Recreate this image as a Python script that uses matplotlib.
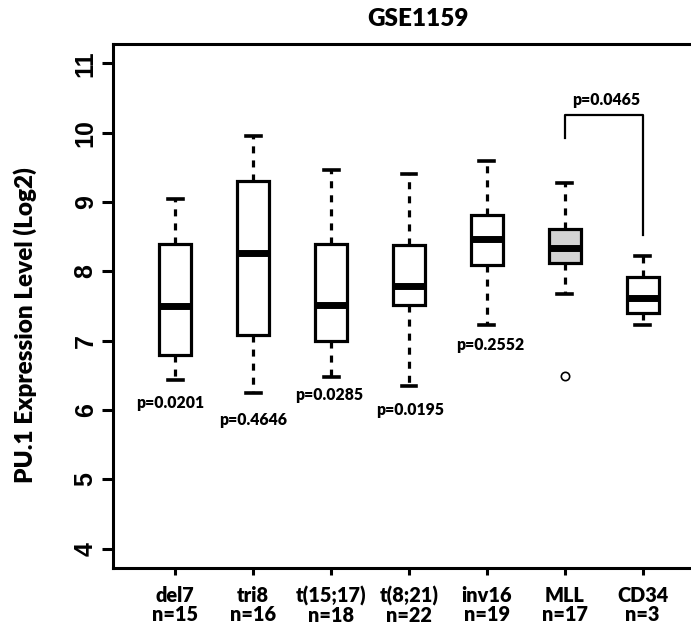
import matplotlib
matplotlib.use("Agg")
import matplotlib.pyplot as plt

groups = ['del7', 'tri8', 't(15;17)', 't(8;21)', 'inv16', 'MLL', 'CD34']
n_samples = [15, 16, 18, 22, 19, 17, 3]
whisk_lo = [6.43, 6.25, 6.48, 6.34, 7.23, 7.67, 7.22]
q1 = [6.79, 7.08, 7.00, 7.51, 8.09, 8.12, 7.40]
med = [7.50, 8.27, 7.51, 7.79, 8.47, 8.33, 7.61]
q3 = [8.40, 9.31, 8.39, 8.38, 8.81, 8.61, 7.92]
whisk_hi = [9.05, 9.95, 9.46, 9.40, 9.59, 9.27, 8.22]
outliers = [[], [], [], [], [], [6.49], []]
box_fill = ['white', 'white', 'white', 'white', 'white', '#d3d3d3', 'white']

# p-values under boxes: (label, x, y)
pvals = ['p=0.0201', 'p=0.4646', 'p=0.0285', 'p=0.0195', 'p=0.2552']
pval_x = [0.93, 2.0, 2.97, 4.02, 5.04]
pval_y = [6.10, 5.86, 6.22, 6.00, 6.94]
bracket_p = 'p=0.0465'

bold = 'Lato'
wt = 'heavy'
fig = plt.figure(figsize=(6.91, 6.3), dpi=100)
ax = fig.add_axes([113/691, 0.0981, 592/691, 0.8322])

stats = []
for i in range(len(groups)):
    stats.append(dict(whislo=whisk_lo[i], q1=q1[i], med=med[i], q3=q3[i],
                      whishi=whisk_hi[i], fliers=outliers[i]))

bp = ax.bxp(stats, positions=range(1, 8), widths=0.41, patch_artist=True,
            showfliers=True,
            boxprops=dict(linewidth=2.3, edgecolor='black'),
            medianprops=dict(linewidth=5, color='black', solid_capstyle='butt'),
            whiskerprops=dict(linewidth=2.3, linestyle=(0, (2.2, 2.2)), color='black'),
            capprops=dict(linewidth=2.6, color='black'),
            capwidths=0.19,
            flierprops=dict(marker='o', markersize=6, markerfacecolor='none',
                            markeredgecolor='black', markeredgewidth=1.2))
for patch, c in zip(bp['boxes'], box_fill):
    patch.set_facecolor(c)

for t, x, y in zip(pvals, pval_x, pval_y):
    ax.text(x, y, t, ha='center', va='center', fontsize=11.3,
            fontweight=wt, family=bold)

# bracket between MLL and CD34
ax.plot([6, 6, 7, 7], [9.92, 10.25, 10.25, 8.52], color='black', lw=1.6)
ax.text(6.53, 10.47, bracket_p, ha='center', va='center', fontsize=11.3,
        fontweight=wt, family=bold)

ax.set_xlim(0.2, 7.8)
ax.set_ylim(3.72, 11.28)
ax.set_yticks(range(4, 12))
ax.set_yticklabels([str(v) for v in range(4, 12)], rotation=90, va='center',
                   fontsize=18, fontweight='bold', family='Liberation Sans')
ax.set_xticks(range(1, 8))
ax.set_xticklabels([g + '\nn=' + str(n) for g, n in zip(groups, n_samples)],
                   fontsize=14.3, fontweight=wt, family=bold, linespacing=1.0)
ax.tick_params(axis='y', length=8, width=2.2, pad=3)
ax.tick_params(axis='x', length=5, width=2.2, pad=8)
for s in ['top', 'left', 'bottom']:
    ax.spines[s].set_linewidth(2.2)
ax.spines['right'].set_visible(False)

fig.text(25/691, 1 - 325/630, 'PU.1 Expression Level (Log2)', rotation=90,
         ha='center', va='center', fontsize=17.5, fontweight=wt, family=bold)
fig.text(418/691, 1 - 19/630, 'GSE1159', ha='center', va='center',
         fontsize=17.5, fontweight=wt, family=bold)

fig.savefig('out.png', dpi=100)
